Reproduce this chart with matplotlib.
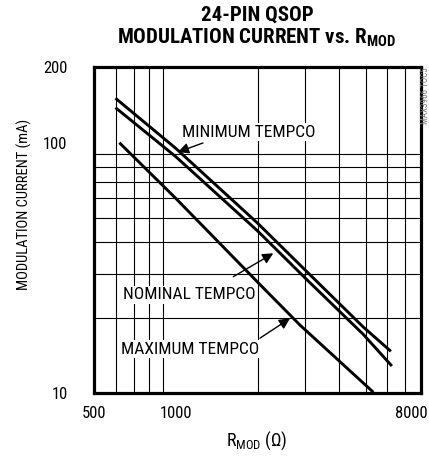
import matplotlib
matplotlib.use("Agg")
import matplotlib.pyplot as plt
import matplotlib.transforms as mtransforms
from matplotlib import font_manager
from matplotlib.ticker import FixedLocator, NullFormatter

# curve data (R_MOD in ohm, current in mA)
r_min = [600, 1000, 2000, 3000, 4900, 6200]
i_min = [150.5, 95, 47.8, 31, 18.4, 14.7]
r_nom = [600, 1000, 2000, 3000, 4900, 6250]
i_nom = [138, 88, 44.5, 28.8, 17.2, 12.85]
r_max = [620, 1000, 2000, 2870, 4140, 5340]
i_max = [100, 60, 27.8, 18.7, 13, 10.1]

x_ticks = [500, 1000, 8000]
y_ticks = [10, 100, 200]
x_grid = [600, 700, 800, 900, 1000, 2000, 3000, 4000, 5000, 6000, 7000]
y_grid = [20, 30, 40, 50, 60, 70, 80, 90, 100]

names = {f.name for f in font_manager.fontManager.ttflist}
narrow = next((f for f in ["Liberation Sans Narrow", "Roboto Condensed", "Liberation Sans"] if f in names), "DejaVu Sans")
plt.rcParams["font.family"] = [narrow, "DejaVu Sans"]
plt.rcParams["mathtext.fontset"] = "custom"
plt.rcParams["mathtext.rm"] = narrow
plt.rcParams["mathtext.bf"] = narrow + ":bold"

fig = plt.figure(figsize=(4.29, 4.57), dpi=100)
ax = fig.add_axes([94/429, 1-393.3/457, 327/429, 326/457])
ax.set_xscale("log")
ax.set_yscale("log")
ax.set_xlim(500, 8000)
ax.set_ylim(10, 200)

ax.xaxis.set_major_locator(FixedLocator(x_ticks))
ax.xaxis.set_minor_locator(FixedLocator(x_grid))
ax.yaxis.set_major_locator(FixedLocator(y_ticks))
ax.yaxis.set_minor_locator(FixedLocator(y_grid))
ax.set_xticklabels([str(v) for v in x_ticks])
ax.set_yticklabels([str(v) for v in y_ticks])
ax.xaxis.set_minor_formatter(NullFormatter())
ax.yaxis.set_minor_formatter(NullFormatter())
ax.tick_params(which="both", length=0, labelsize=12)
ax.tick_params(axis="y", pad=19)
ax.tick_params(axis="x", pad=9)
# last x label sits against the right edge, as in the original
last = ax.get_xticklabels()[-1]
last.set_horizontalalignment("right")
last.set_transform(last.get_transform() + mtransforms.ScaledTranslation(7/100, 0, fig.dpi_scale_trans))
ax.grid(which="minor", color="black", lw=0.8)
for s in ax.spines.values():
    s.set_linewidth(2.3)

for xs, ys in [(r_min, i_min), (r_nom, i_nom), (r_max, i_max)]:
    ax.plot(xs, ys, color="black", lw=2.1, solid_capstyle="butt")

box = dict(facecolor="white", edgecolor="none", pad=1)
ax.text(1856, 110, "MINIMUM TEMPCO", fontsize=12.5, ha="center", va="center", bbox=box)
ax.text(1126, 24.7, "NOMINAL TEMPCO", fontsize=12.5, ha="center", va="center", bbox=box)
ax.text(1132, 15.0, "MAXIMUM TEMPCO", fontsize=12.5, ha="center", va="center", bbox=box)

arrow = dict(arrowstyle="-|>", color="black", lw=1, mutation_scale=16, shrinkA=0, shrinkB=0)
ax.annotate("", xy=(1019, 91.8), xytext=(1260, 99.8), arrowprops=arrow)
ax.annotate("", xy=(2286, 36.2), xytext=(1629, 29.2), arrowprops=arrow)
ax.annotate("", xy=(2634, 19.9), xytext=(2042, 16.6), arrowprops=arrow)

fig.text(257/429, 1-15.5/457, "24-PIN QSOP", fontsize=15, fontweight="bold", ha="center", va="center")
fig.text(256/429, 1-38/457, r"MODULATION CURRENT vs. R$_\mathbf{MOD}$", fontsize=15, fontweight="bold", ha="center", va="center")
fig.text(24/429, 1-204/457, "MODULATION CURRENT (mA)", fontsize=10.5, rotation=90, ha="center", va="center")
fig.text(257/429, 1-441/457, r"R$_\mathrm{MOD}$ (Ω)", fontsize=13, ha="center", va="center")
fig.text(425/429, 1-67/457, "MAX3966 TOC5", fontsize=6.5, color="#777777", rotation=90, ha="center", va="top")

fig.savefig("out.png", dpi=100)
